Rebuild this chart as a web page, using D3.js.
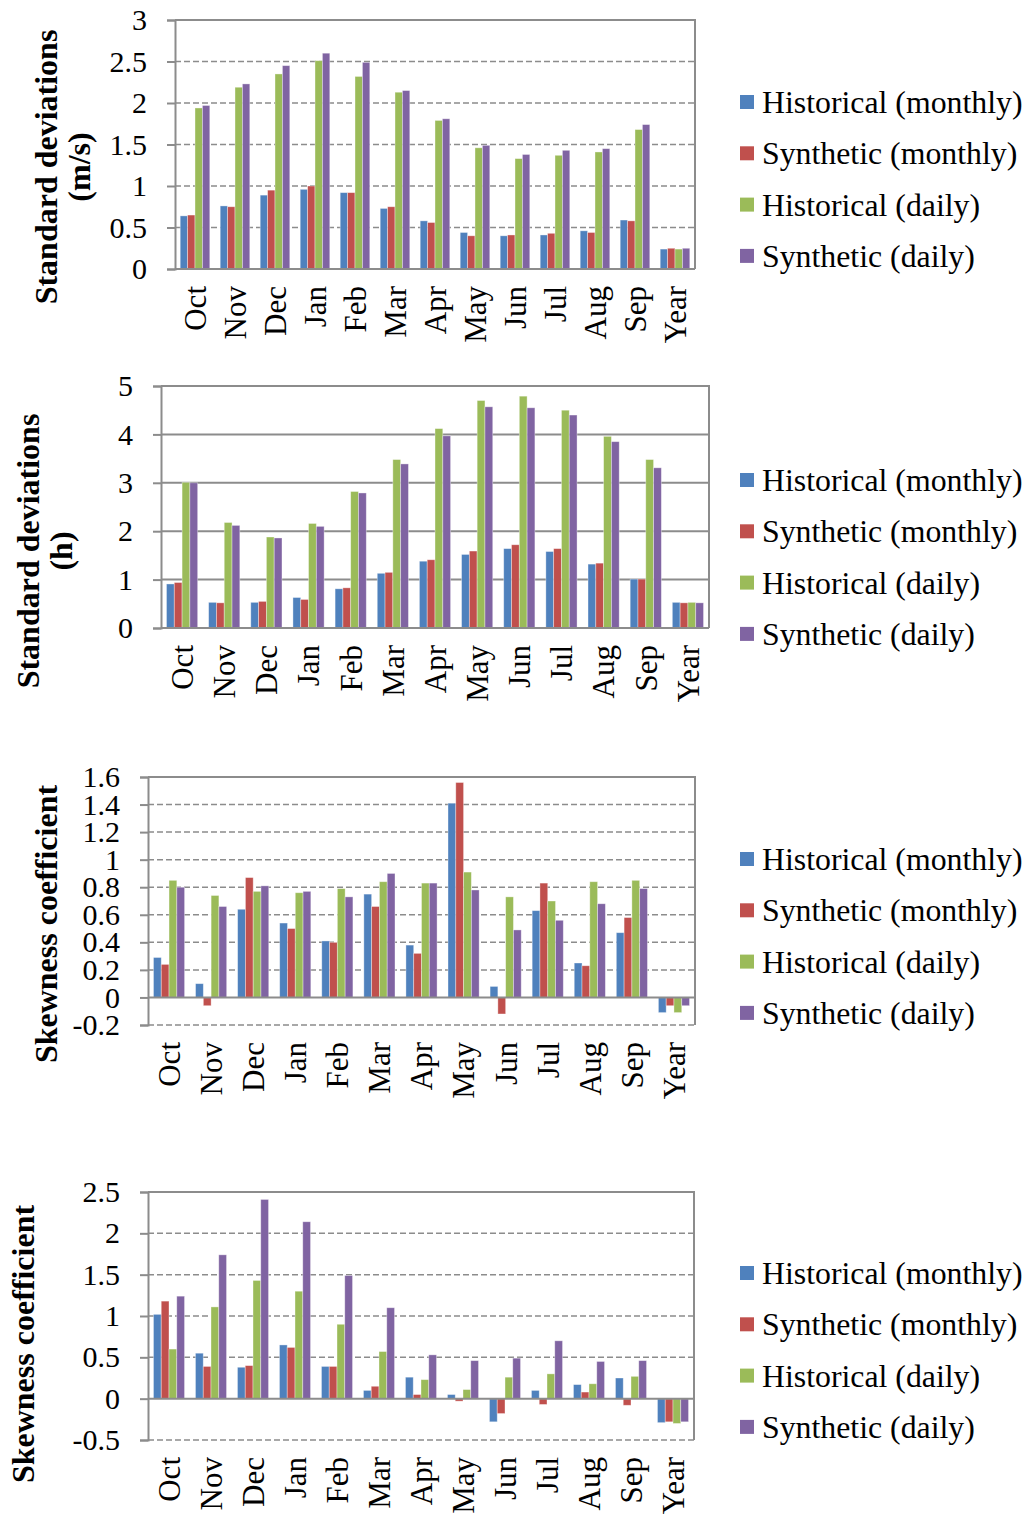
<!DOCTYPE html>
<html>
<head>
<meta charset="utf-8">
<script src="https://cdn.jsdelivr.net/npm/d3@7"></script>
<style>
  body { margin: 0; background: #fff; }
  text { font-family: "Liberation Serif", "Times New Roman", serif; fill: #000; }
</style>
</head>
<body>
<div class="chart"></div>
<script>
var svgWidth = 1029;
var svgHeight = 1521;

// categories and series
var months = ["Oct", "Nov", "Dec", "Jan", "Feb", "Mar", "Apr", "May", "Jun", "Jul", "Aug", "Sep", "Year"];
var seriesNames = ["Historical (monthly)", "Synthetic (monthly)", "Historical (daily)", "Synthetic (daily)"];
var seriesColors = ["#4F81BD", "#C0504D", "#9BBB59", "#8064A2"];

// panel 1: standard deviations (m/s)
var sdWindHistMonthly = [0.64, 0.76, 0.89, 0.96, 0.92, 0.73, 0.58, 0.44, 0.40, 0.41, 0.46, 0.59, 0.24];
var sdWindSynMonthly  = [0.65, 0.75, 0.95, 1.00, 0.92, 0.75, 0.56, 0.40, 0.41, 0.43, 0.44, 0.58, 0.25];
var sdWindHistDaily   = [1.94, 2.19, 2.35, 2.51, 2.32, 2.13, 1.79, 1.46, 1.33, 1.37, 1.41, 1.68, 0.24];
var sdWindSynDaily    = [1.97, 2.23, 2.45, 2.60, 2.49, 2.15, 1.81, 1.49, 1.38, 1.43, 1.45, 1.74, 0.25];

// panel 2: standard deviations (h)
var sdHoursHistMonthly = [0.91, 0.53, 0.53, 0.63, 0.81, 1.13, 1.38, 1.52, 1.64, 1.58, 1.32, 1.01, 0.53];
var sdHoursSynMonthly  = [0.94, 0.52, 0.55, 0.59, 0.83, 1.15, 1.41, 1.59, 1.72, 1.64, 1.34, 1.01, 0.52];
var sdHoursHistDaily   = [3.01, 2.18, 1.88, 2.16, 2.82, 3.48, 4.12, 4.70, 4.79, 4.50, 3.96, 3.48, 0.53];
var sdHoursSynDaily    = [3.00, 2.12, 1.86, 2.10, 2.79, 3.39, 3.97, 4.57, 4.55, 4.40, 3.85, 3.31, 0.52];

// panel 3: skewness coefficient
var skewAHistMonthly = [0.29, 0.10, 0.64, 0.54, 0.41, 0.75, 0.38, 1.41, 0.08, 0.63, 0.25, 0.47, -0.11];
var skewASynMonthly  = [0.24, -0.06, 0.87, 0.50, 0.40, 0.66, 0.32, 1.56, -0.12, 0.83, 0.23, 0.58, -0.06];
var skewAHistDaily   = [0.85, 0.74, 0.77, 0.76, 0.79, 0.84, 0.83, 0.91, 0.73, 0.70, 0.84, 0.85, -0.11];
var skewASynDaily    = [0.80, 0.66, 0.81, 0.77, 0.73, 0.90, 0.83, 0.78, 0.49, 0.56, 0.68, 0.79, -0.06];

// panel 4: skewness coefficient
var skewBHistMonthly = [1.02, 0.55, 0.38, 0.65, 0.39, 0.10, 0.26, 0.05, -0.28, 0.10, 0.17, 0.25, -0.29];
var skewBSynMonthly  = [1.18, 0.39, 0.40, 0.62, 0.39, 0.15, 0.05, -0.03, -0.18, -0.07, 0.08, -0.08, -0.28];
var skewBHistDaily   = [0.60, 1.11, 1.43, 1.30, 0.90, 0.57, 0.23, 0.11, 0.26, 0.30, 0.18, 0.27, -0.30];
var skewBSynDaily    = [1.24, 1.74, 2.41, 2.14, 1.49, 1.10, 0.53, 0.46, 0.49, 0.70, 0.45, 0.46, -0.28];

// y tick labels
var sdWindTicks  = ["0", "0.5", "1", "1.5", "2", "2.5", "3"];
var sdHoursTicks = ["0", "1", "2", "3", "4", "5"];
var skewATicks   = ["-0.2", "0", "0.2", "0.4", "0.6", "0.8", "1", "1.2", "1.4", "1.6"];
var skewBTicks   = ["-0.5", "0", "0.5", "1", "1.5", "2", "2.5"];

var panels = [
  { series: [sdWindHistMonthly, sdWindSynMonthly, sdWindHistDaily, sdWindSynDaily],
    ticks: sdWindTicks, left: 175, right: 695, top: 20, bottom: 269, dashed: true,
    title: ["Standard deviations", "(m/s)"], titleX: [57, 90], titleY: 167,
    legendY: 102 },
  { series: [sdHoursHistMonthly, sdHoursSynMonthly, sdHoursHistDaily, sdHoursSynDaily],
    ticks: sdHoursTicks, left: 161, right: 709, top: 386, bottom: 628, dashed: false,
    title: ["Standard deviations", "(h)"], titleX: [39, 72], titleY: 551,
    legendY: 480 },
  { series: [skewAHistMonthly, skewASynMonthly, skewAHistDaily, skewASynDaily],
    ticks: skewATicks, left: 148, right: 695, top: 777, bottom: 1025, dashed: true,
    title: ["Skewness coefficient"], titleX: [57], titleY: 924,
    legendY: 859 },
  { series: [skewBHistMonthly, skewBSynMonthly, skewBHistDaily, skewBSynDaily],
    ticks: skewBTicks, left: 148, right: 694, top: 1192, bottom: 1440, dashed: true,
    title: ["Skewness coefficient"], titleX: [34], titleY: 1344,
    legendY: 1273 }
];

var svg = d3.select(".chart")
  .append("svg")
  .attr("width", svgWidth)
  .attr("height", svgHeight);

var gridColor = "#8c8c8c";
var fontSize = 30;

function drawPanel(p) {
  var g = svg.append("g");
  var tickVals = p.ticks.map(Number);

  var y = d3.scaleLinear()
    .domain([d3.min(tickVals), d3.max(tickVals)])
    .range([p.bottom, p.top]);

  var x0 = d3.scaleBand()
    .domain(months)
    .range([p.left, p.right])
    .paddingInner(0.26)
    .paddingOuter(0.13);

  var x1 = d3.scaleBand()
    .domain(d3.range(seriesNames.length))
    .range([0, x0.bandwidth()]);

  // gridlines
  g.append("g").selectAll("line")
    .data(tickVals.filter(function(v) { return v !== 0 && v !== d3.max(tickVals); }))
    .enter()
    .append("line")
    .attr("x1", p.left)
    .attr("x2", p.right)
    .attr("y1", d => y(d))
    .attr("y2", d => y(d))
    .attr("stroke", gridColor)
    .attr("stroke-width", p.dashed ? 1.5 : 2)
    .attr("stroke-dasharray", p.dashed ? "6,3" : null);

  // plot border (top and right)
  g.append("path")
    .attr("d", `M${p.left},${p.top}H${p.right}V${p.bottom}`)
    .attr("fill", "none")
    .attr("stroke", gridColor)
    .attr("stroke-width", 2);

  // bars
  var rows = months.map(function(m, i) {
    return p.series.map(function(s, k) { return { month: m, k: k, value: s[i] }; });
  });

  g.append("g").selectAll("g")
    .data(rows)
    .enter()
    .append("g")
    .attr("transform", (d, i) => `translate(${x0(months[i])},0)`)
    .selectAll("rect")
    .data(d => d)
    .enter()
    .append("rect")
    .attr("x", d => x1(d.k))
    .attr("width", x1.bandwidth())
    .attr("y", d => y(Math.max(0, d.value)))
    .attr("height", d => Math.abs(y(d.value) - y(0)))
    .attr("fill", d => seriesColors[d.k])
    .attr("stroke", "rgba(255,255,255,0.45)")
    .attr("stroke-width", 0.8);

  // y axis
  var leftAxis = d3.axisLeft(y)
    .tickValues(tickVals)
    .tickSize(8)
    .tickPadding(20)
    .tickFormat(function(d, i) { return p.ticks[i]; });

  var yAxis = g.append("g")
    .attr("transform", `translate(${p.left},0)`)
    .call(leftAxis);
  yAxis.select(".domain").attr("stroke", gridColor).attr("stroke-width", 2);
  yAxis.selectAll(".tick line").attr("stroke", gridColor).attr("stroke-width", 2);
  yAxis.selectAll(".tick text")
    .attr("font-size", fontSize)
    .attr("font-family", "Liberation Serif");

  // zero / category axis line
  g.append("line")
    .attr("x1", p.left)
    .attr("x2", p.right)
    .attr("y1", y(0))
    .attr("y2", y(0))
    .attr("stroke", gridColor)
    .attr("stroke-width", 2);

  // category labels (rotated)
  g.append("g").selectAll("text")
    .data(months)
    .enter()
    .append("text")
    .attr("transform", d => `translate(${x0(d) + x0.bandwidth() / 2},${p.bottom + 17}) rotate(-90)`)
    .attr("dy", "0.35em")
    .attr("text-anchor", "end")
    .attr("font-size", 31)
    .text(d => d);

  // axis title
  p.title.forEach(function(t, i) {
    g.append("text")
      .attr("transform", `translate(${p.titleX[i]},${p.titleY}) rotate(-90)`)
      .attr("text-anchor", "middle")
      .attr("font-size", 32)
      .attr("font-weight", "bold")
      .text(t);
  });

  // legend
  var legend = g.append("g").selectAll("g")
    .data(seriesNames)
    .enter()
    .append("g")
    .attr("transform", (d, i) => `translate(740,${p.legendY + i * 51.3})`);

  legend.append("rect")
    .attr("x", 0)
    .attr("y", -7)
    .attr("width", 14)
    .attr("height", 14)
    .attr("fill", (d, i) => seriesColors[i]);

  legend.append("text")
    .attr("x", 22)
    .attr("dy", "0.35em")
    .attr("font-size", 31.8)
    .text(d => d);
}

panels.forEach(drawPanel);
</script>
</body>
</html>
